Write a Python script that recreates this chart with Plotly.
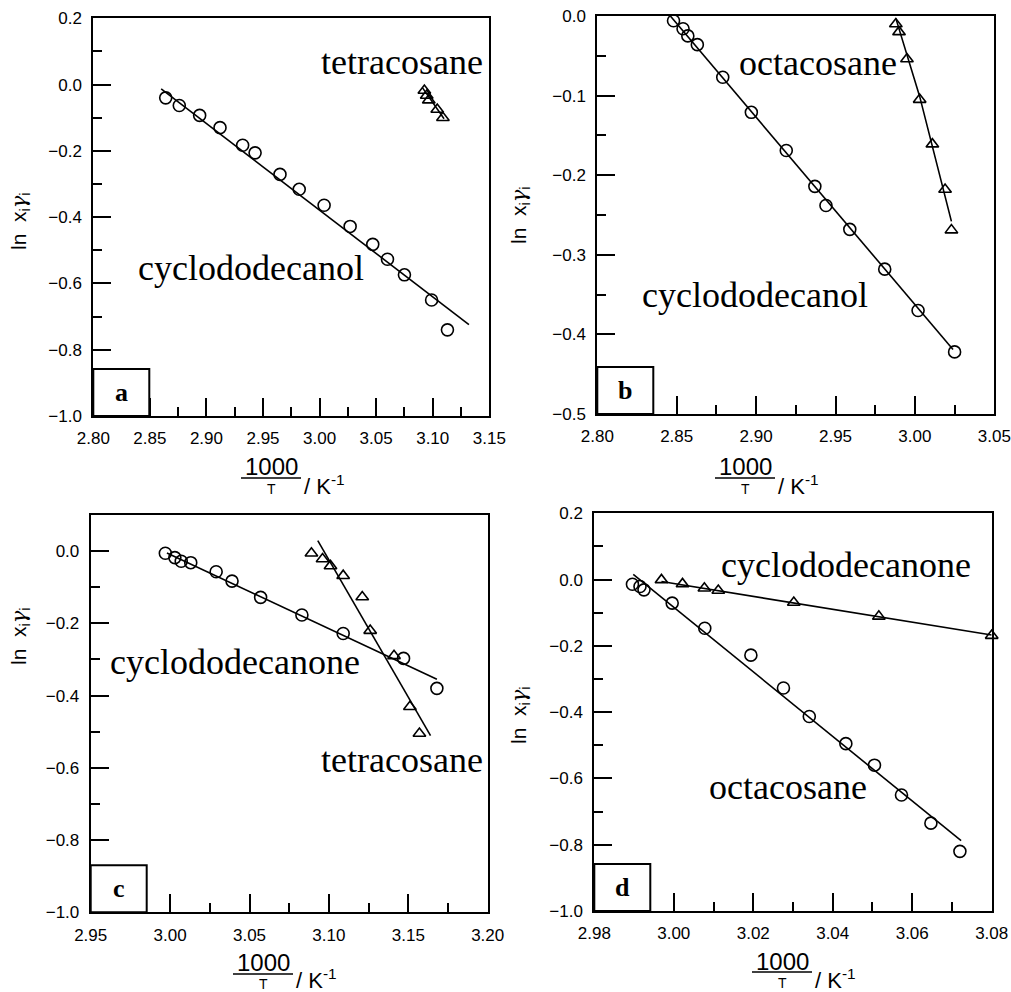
import plotly.graph_objects as go

# ---------------- data ----------------
# panel a: cyclododecanol (circles) and tetracosane (triangles)
a_cdol_x = [2.864, 2.876, 2.894, 2.912, 2.932, 2.943, 2.965, 2.982, 3.004, 3.027, 3.047, 3.060, 3.075, 3.099, 3.113]
a_cdol_y = [-0.040, -0.063, -0.093, -0.130, -0.183, -0.206, -0.271, -0.316, -0.364, -0.428, -0.482, -0.527, -0.574, -0.650, -0.740]
a_cdol_fit_x = [2.860, 3.132]
a_cdol_fit_y = [-0.013, -0.724]
a_tetra_x = [3.0926, 3.0947, 3.0965, 3.104, 3.109]
a_tetra_y = [-0.018, -0.033, -0.047, -0.075, -0.100]
a_tetra_fit_x = [3.091, 3.110]
a_tetra_fit_y = [-0.010, -0.103]

# panel b: cyclododecanol (circles) and octacosane (triangles)
b_cdol_x = [2.848, 2.854, 2.857, 2.863, 2.879, 2.897, 2.919, 2.937, 2.944, 2.959, 2.981, 3.002, 3.025]
b_cdol_y = [-0.006, -0.016, -0.025, -0.036, -0.077, -0.121, -0.169, -0.214, -0.238, -0.268, -0.318, -0.370, -0.422]
b_cdol_fit_x = [2.846, 3.024]
b_cdol_fit_y = [0.0, -0.419]
b_octa_x = [2.988, 2.990, 2.995, 3.003, 3.011, 3.019, 3.023]
b_octa_y = [-0.010, -0.020, -0.054, -0.105, -0.161, -0.218, -0.269]
b_octa_fit_x = [2.988, 3.003, 3.023]
b_octa_fit_y = [-0.003, -0.101, -0.258]

# panel c: cyclododecanone (circles) and tetracosane (triangles)
c_cdone_x = [2.997, 3.003, 3.007, 3.013, 3.029, 3.039, 3.057, 3.083, 3.109, 3.147, 3.168]
c_cdone_y = [-0.006, -0.018, -0.028, -0.032, -0.057, -0.083, -0.128, -0.177, -0.228, -0.297, -0.380]
c_cdone_fit_x = [2.998, 3.168]
c_cdone_fit_y = [-0.005, -0.355]
c_tetra_x = [3.089, 3.096, 3.101, 3.109, 3.121, 3.126, 3.141, 3.151, 3.157]
c_tetra_y = [-0.006, -0.022, -0.041, -0.068, -0.127, -0.220, -0.290, -0.431, -0.505]
c_tetra_fit_x = [3.093, 3.164]
c_tetra_fit_y = [0.029, -0.511]

# panel d: octacosane (circles) and cyclododecanone (triangles)
d_octa_x = [2.9896, 2.9915, 2.9925, 2.9996, 3.0078, 3.0194, 3.0276, 3.0341, 3.0433, 3.0505, 3.0573, 3.0647, 3.0720]
d_octa_y = [-0.014, -0.021, -0.031, -0.071, -0.147, -0.228, -0.327, -0.413, -0.495, -0.560, -0.650, -0.735, -0.820]
d_octa_fit_x = [2.9898, 3.0723]
d_octa_fit_y = [0.016, -0.788]
d_cdone_x = [2.9969, 3.0022, 3.0077, 3.0112, 3.0302, 3.0516, 3.0800]
d_cdone_y = [-0.001, -0.013, -0.026, -0.033, -0.069, -0.111, -0.169]
d_cdone_fit_x = [2.9969, 3.0800]
d_cdone_fit_y = [-0.006, -0.167]

# tick values / labels
a_xticks = [2.80, 2.85, 2.90, 2.95, 3.00, 3.05, 3.10, 3.15]
a_xlabels = ["2.80", "2.85", "2.90", "2.95", "3.00", "3.05", "3.10", "3.15"]
a_yticks = [0.2, 0.0, -0.2, -0.4, -0.6, -0.8, -1.0]
a_ylabels = ["0.2", "0.0", "\u22120.2", "\u22120.4", "\u22120.6", "\u22120.8", "\u22121.0"]
b_xticks = [2.80, 2.85, 2.90, 2.95, 3.00, 3.05]
b_xlabels = ["2.80", "2.85", "2.90", "2.95", "3.00", "3.05"]
b_yticks = [0.0, -0.1, -0.2, -0.3, -0.4, -0.5]
b_ylabels = ["0.0", "\u22120.1", "\u22120.2", "\u22120.3", "\u22120.4", "\u22120.5"]
c_xticks = [2.95, 3.00, 3.05, 3.10, 3.15, 3.20]
c_xlabels = ["2.95", "3.00", "3.05", "3.10", "3.15", "3.20"]
c_yticks = [0.0, -0.2, -0.4, -0.6, -0.8, -1.0]
c_ylabels = ["0.0", "\u22120.2", "\u22120.4", "\u22120.6", "\u22120.8", "\u22121.0"]
d_xticks = [2.98, 3.00, 3.02, 3.04, 3.06, 3.08]
d_xlabels = ["2.98", "3.00", "3.02", "3.04", "3.06", "3.08"]
d_yticks = [0.2, 0.0, -0.2, -0.4, -0.6, -0.8, -1.0]
d_ylabels = ["0.2", "0.0", "\u22120.2", "\u22120.4", "\u22120.6", "\u22120.8", "\u22121.0"]

panel_letters = ["a", "b", "c", "d"]

# ---------------- figure ----------------
# page body margin is removed (post_script), so the figure fills the window exactly
OFF = 0
W, H = 1011, 992
fig = go.Figure()


def px(x):
    return (x - OFF) / W


def py(y):
    return 1 - (y - OFF) / H


# window-pixel boxes of the four plot areas (left, top, right, bottom)
boxes = [(93.3, 18.3, 489.3, 416.0),
         (597.3, 16.0, 994.3, 414.0),
         (90.7, 515.0, 487.7, 912.3),
         (594.3, 513.3, 991.7, 911.0)]

panels = [
    dict(xr=[2.80, 3.15], yr=[-1.0, 0.2], xt=a_xticks, xl=a_xlabels, yt=a_yticks, yl=a_ylabels, xm=0.025, ym=0.1,
         circ=(a_cdol_x, a_cdol_y, a_cdol_fit_x, a_cdol_fit_y),
         tri=(a_tetra_x, a_tetra_y, a_tetra_fit_x, a_tetra_fit_y),
         labels=[("tetracosane", 0.7795, 0.890), ("cyclododecanol", 0.398, 0.372)]),
    dict(xr=[2.80, 3.05], yr=[-0.5, 0.0], xt=b_xticks, xl=b_xlabels, yt=b_yticks, yl=b_ylabels, xm=0.025, ym=0.05,
         circ=(b_cdol_x, b_cdol_y, b_cdol_fit_x, b_cdol_fit_y),
         tri=(b_octa_x, b_octa_y, b_octa_fit_x, b_octa_fit_y),
         labels=[("octacosane", 0.556, 0.882), ("cyclododecanol", 0.397, 0.299)]),
    dict(xr=[2.95, 3.20], yr=[-1.0, 0.1], xt=c_xticks, xl=c_xlabels, yt=c_yticks, yl=c_ylabels, xm=0.025, ym=0.1,
         circ=(c_cdone_x, c_cdone_y, c_cdone_fit_x, c_cdone_fit_y),
         tri=(c_tetra_x, c_tetra_y, c_tetra_fit_x, c_tetra_fit_y),
         labels=[("cyclododecanone", 0.3635, 0.630), ("tetracosane", 0.784, 0.383)]),
    dict(xr=[2.98, 3.08], yr=[-1.0, 0.2], xt=d_xticks, xl=d_xlabels, yt=d_yticks, yl=d_ylabels, xm=0.01, ym=0.1,
         circ=(d_octa_x, d_octa_y, d_octa_fit_x, d_octa_fit_y),
         tri=(d_cdone_x, d_cdone_y, d_cdone_fit_x, d_cdone_fit_y),
         labels=[("cyclododecanone", 0.633, 0.870), ("octacosane", 0.487, 0.312)]),
]

tickfont = dict(family="Liberation Sans, Arial, sans-serif", size=17, color="black")
serif = "Liberation Serif, Times New Roman, serif"
sans = "Liberation Sans, Arial, sans-serif"

annotations = []
shapes = []
layout_axes = {}

for i, p in enumerate(panels):
    n = i + 1
    xa = "x" if n == 1 else f"x{n}"
    ya = "y" if n == 1 else f"y{n}"
    l, t, r, b = boxes[i]
    xdom = [px(l), px(r)]
    ydom = [py(b), py(t)]

    # fitted lines
    for fx, fy in ((p["circ"][2], p["circ"][3]), (p["tri"][2], p["tri"][3])):
        fig.add_trace(go.Scatter(x=fx, y=fy, mode="lines", xaxis=xa, yaxis=ya,
                                 line=dict(color="black", width=1.6), showlegend=False,
                                 hoverinfo="skip"))
    # markers
    fig.add_trace(go.Scatter(x=p["circ"][0], y=p["circ"][1], mode="markers", xaxis=xa, yaxis=ya,
                             marker=dict(symbol="circle-open", size=12, color="black",
                                         line=dict(color="black", width=1.6)),
                             cliponaxis=False, showlegend=False))
    fig.add_trace(go.Scatter(x=p["tri"][0], y=p["tri"][1], mode="markers", xaxis=xa, yaxis=ya,
                             marker=dict(symbol="triangle-up-open", size=11, color="black",
                                         line=dict(color="black", width=1.6)),
                             cliponaxis=False, showlegend=False))

    common = dict(showline=True, linecolor="black", linewidth=2, mirror=True,
                  ticks="inside", ticklen=18, tickwidth=2, tickcolor="black",
                  showgrid=False, zeroline=False, tickfont=tickfont, tickmode="array",
                  fixedrange=True, automargin=False, ticklabeloverflow="allow")
    layout_axes["xaxis" if n == 1 else f"xaxis{n}"] = dict(
        common, domain=xdom, range=p["xr"], anchor=ya, tickvals=p["xt"], ticktext=p["xl"],
        ticklabelstandoff=6,
        minor=dict(ticks="inside", ticklen=9, tickwidth=2, tickcolor="black",
                   dtick=p["xm"], tick0=p["xr"][0], showgrid=False))
    layout_axes["yaxis" if n == 1 else f"yaxis{n}"] = dict(
        common, domain=ydom, range=p["yr"], anchor=xa, tickvals=p["yt"], ticktext=p["yl"],
        ticklabelstandoff=6,
        minor=dict(ticks="inside", ticklen=9, tickwidth=2, tickcolor="black",
                   dtick=p["ym"], tick0=0, showgrid=False))

    # text labels for the series
    for txt, fx, fy in p["labels"]:
        annotations.append(dict(text=txt, xref=f"{xa} domain", yref=f"{ya} domain", x=fx, y=fy,
                                showarrow=False, xanchor="center", yanchor="middle",
                                font=dict(family=serif, size=36, color="black")))

    # panel letter box
    bw, bh = 56 / (r - l), 47 / (b - t)
    shapes.append(dict(type="rect", xref=f"{xa} domain", yref=f"{ya} domain",
                       x0=0, x1=bw, y0=0, y1=bh, line=dict(color="black", width=2),
                       fillcolor="white", layer="above"))
    annotations.append(dict(text=f"<b>{panel_letters[i]}</b>", xref=f"{xa} domain", yref=f"{ya} domain",
                            x=bw / 2, y=bh / 2, showarrow=False, xanchor="center", yanchor="middle",
                            font=dict(family=serif, size=26, color="black")))

# y-axis titles (window-pixel centres)
ytitle = ("ln  x<sub>i</sub><span style=\"font-family:'DejaVu Serif';font-style:italic\">\u03b3</span>"
          "<sub>i</sub>")
ytitle_pos = [(20, 221), (520, 215), (20, 636), (520, 715)]
for (tx, ty) in ytitle_pos:
    annotations.append(dict(text=ytitle, xref="paper", yref="paper",
                            x=px(tx), y=py(ty), textangle=-90, showarrow=False,
                            xanchor="center", yanchor="middle",
                            font=dict(family=sans, size=21, color="black")))

# x-axis titles: 1000/T (fraction) and / K^-1  (window pixels)
xtitle = [  # (centre of 1000, y of 1000, y of bar, y of T, left of "/ K-1", y of "/ K-1")
    (271, 466, 478, 489, 302, 485),
    (745, 466, 478, 489, 776, 485),
    (263, 962, 974, 984, 294, 979),
    (782, 961, 972, 983, 813, 979),
]
for (cx, y1000, ybar, yT, kx, ky) in xtitle:
    annotations.append(dict(text="1000", xref="paper", yref="paper", x=px(cx), y=py(y1000),
                            showarrow=False, xanchor="center", yanchor="middle",
                            font=dict(family=sans, size=24, color="black")))
    annotations.append(dict(text="T", xref="paper", yref="paper", x=px(cx), y=py(yT),
                            showarrow=False, xanchor="center", yanchor="middle",
                            font=dict(family=sans, size=14, color="black")))
    annotations.append(dict(text="/ K<sup>-1</sup>", xref="paper", yref="paper", x=px(kx), y=py(ky),
                            showarrow=False, xanchor="left", yanchor="middle",
                            font=dict(family=sans, size=22, color="black")))
    shapes.append(dict(type="line", xref="paper", yref="paper", x0=px(cx - 30), x1=px(cx + 30),
                       y0=py(ybar), y1=py(ybar), line=dict(color="black", width=1.5)))

fig.update_layout(template="none", width=W, height=H, margin=dict(l=0, r=0, t=0, b=0),
                  paper_bgcolor="white", plot_bgcolor="white",
                  annotations=annotations, shapes=shapes, showlegend=False, **layout_axes)

fig.write_html("out.html", config={"displayModeBar": False, "staticPlot": True},
               post_script="document.body.style.margin='0';document.body.style.overflow='hidden';")
